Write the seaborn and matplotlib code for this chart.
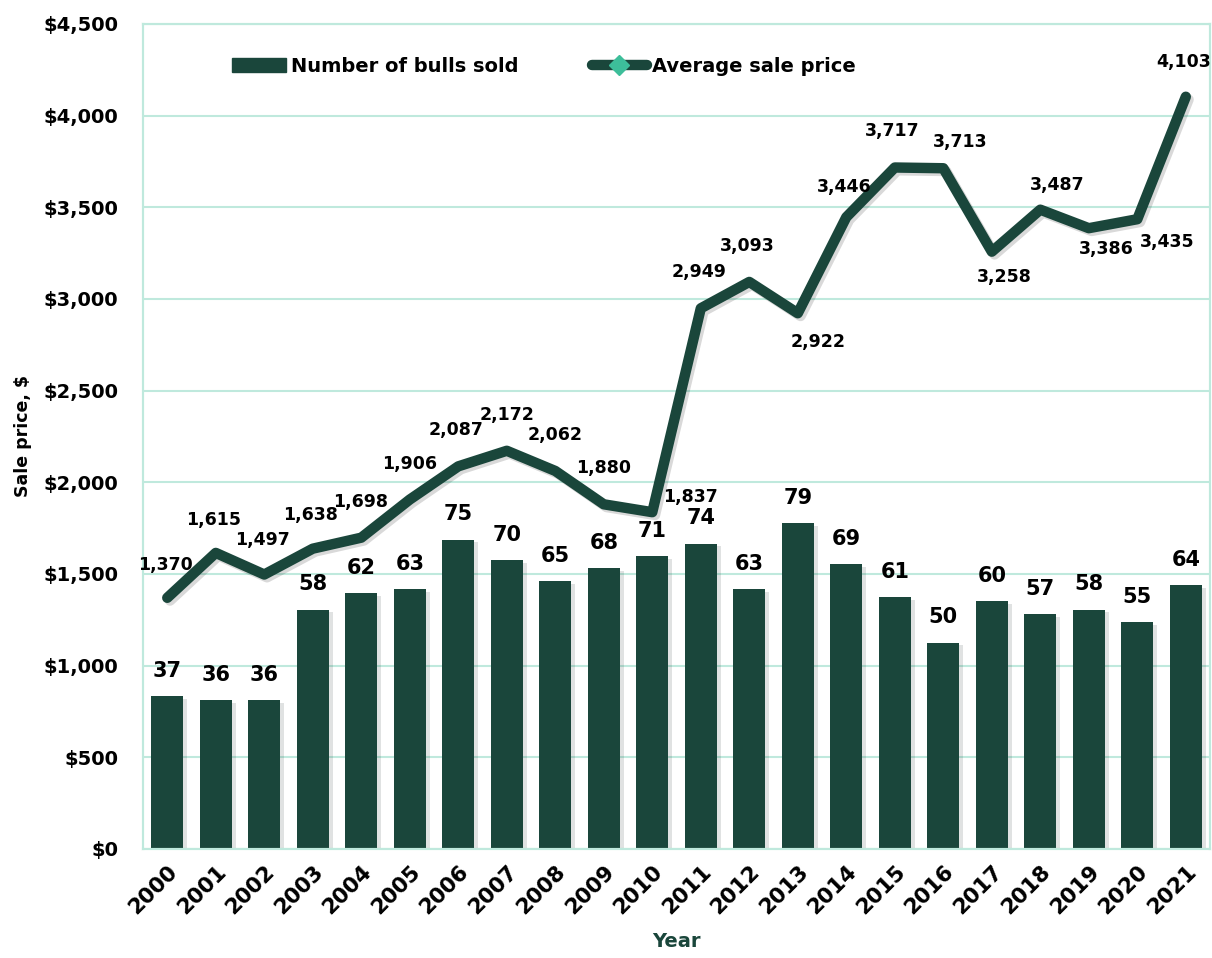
import numpy as np
import pandas as pd
import matplotlib
matplotlib.use("Agg")
import matplotlib.pyplot as plt
import matplotlib.patheffects as pe
from matplotlib.lines import Line2D
from matplotlib.patches import Patch
import seaborn as sns

# data
years = [str(y) for y in range(2000, 2022)]
bulls_sold = [37, 36, 36, 58, 62, 63, 75, 70, 65, 68, 71,
              74, 63, 79, 69, 61, 50, 60, 57, 58, 55, 64]
avg_price = [1370, 1615, 1497, 1638, 1698, 1906, 2087, 2172, 2062, 1880, 1837,
             2949, 3093, 2922, 3446, 3717, 3713, 3258, 3487, 3386, 3435, 4103]
price_ticks = list(range(0, 4501, 500))

df = pd.DataFrame({"Year": years, "Bulls": bulls_sold, "Price": avg_price})

dark = "#1A463B"
mint = "#BFE9DD"
teal = "#3DBE9A"

sns.set_style("white")
plt.rcParams["font.family"] = ["DejaVu Sans"]
plt.rcParams["font.weight"] = "bold"
plt.rcParams["text.color"] = "black"
plt.rcParams["axes.labelcolor"] = "black"
plt.rcParams["xtick.color"] = "black"
plt.rcParams["ytick.color"] = "black"

fig = plt.figure(figsize=(12.12, 9.58), dpi=100)
ax = fig.add_axes([0.118, 0.1138, 0.8804, 0.8612])

# bars (number sold) on the bottom axes, which also carries the grid
sns.barplot(data=df, x="Year", y="Bulls", color=dark, width=0.66,
            saturation=1, linewidth=0, ax=ax, zorder=2)
for bar in ax.patches:
    bar.set_path_effects([pe.SimplePatchShadow(offset=(3, -2), alpha=0.12),
                          pe.Normal()])
ax.set_ylim(0, 200)
ax.set_yticks(np.linspace(0, 200, len(price_ticks)))
ax.grid(axis="y", color=mint, linewidth=1.5)
ax.set_axisbelow(True)
ax.set_xlim(-0.5, len(years) - 0.5)
ax.bar_label(ax.containers[0], padding=11, fontsize=15, fontweight="bold")

# price line on a twin axes, ticks moved to the left
ax2 = ax.twinx()
sns.lineplot(data=df, x="Year", y="Price", color=dark, linewidth=7.5,
             sort=False, ax=ax2,
             path_effects=[pe.SimpleLineShadow(offset=(2, -2), alpha=0.15),
                           pe.Normal()])
ax2.lines[0].set_solid_capstyle("round")
ax2.lines[0].set_solid_joinstyle("round")
ax2.set_ylim(0, 4500)
ax2.set_yticks(price_ticks)
ax2.set_yticklabels([f"${v:,}" for v in price_ticks])
ax2.yaxis.set_ticks_position("left")
ax2.yaxis.set_label_position("left")
ax2.set_ylabel("Sale price, $", fontsize=12.5, fontweight="bold", labelpad=8)

# label offsets in pixels (x right, y up)
offsets = [(-2, 33), (-2, 33), (-2, 35), (-2, 34), (-1, 36), (0, 36), (-2, 36),
           (0, 36), (0, 36), (0, 36), (38, 15), (-2, 36), (-2, 36), (20, -29),
           (-2, 30), (-3, 37), (17, 26), (13, -25), (17, 25), (17, -21),
           (30, -23), (-2, 35)]
for i, (v, off) in enumerate(zip(avg_price, offsets)):
    ax2.annotate(f"{v:,}", (i, v), xytext=off, textcoords="offset pixels",
                 ha="center", va="center", fontsize=12.5, fontweight="bold")

for a in (ax, ax2):
    for s in a.spines.values():
        s.set_color(mint)
        s.set_linewidth(1.5)

# tick settings after twinx, which turns ticks back on
ax.tick_params(axis="y", left=False, right=False, labelleft=False,
               labelright=False, length=0)
ax.tick_params(axis="x", bottom=False, length=0, labelsize=15.5, pad=9)
ax2.tick_params(axis="y", left=False, right=False, length=0, labelsize=14,
                pad=18)

ax.set_ylabel("")
ax2.set_xlabel("")
ax.set_xlabel("Year", fontsize=14, fontweight="bold", color=dark, labelpad=10)
plt.setp(ax.get_xticklabels(), rotation=45, ha="right", rotation_mode="anchor",
         fontweight="bold")

handles = [Patch(color=dark, label="Number of bulls sold"),
           Line2D([0], [0], color=dark, linewidth=7.5, marker="D",
                  markersize=10, markerfacecolor=teal, markeredgecolor=teal,
                  solid_capstyle="round", label="Average sale price")]
ax2.legend(handles=handles, loc="center left", bbox_to_anchor=(0.083, 0.949),
           ncol=2, frameon=False, fontsize=14, handlelength=2.8,
           handleheight=0.75, handletextpad=0.25, columnspacing=3.8,
           borderpad=0, borderaxespad=0)

fig.savefig("out.png", dpi=100)
